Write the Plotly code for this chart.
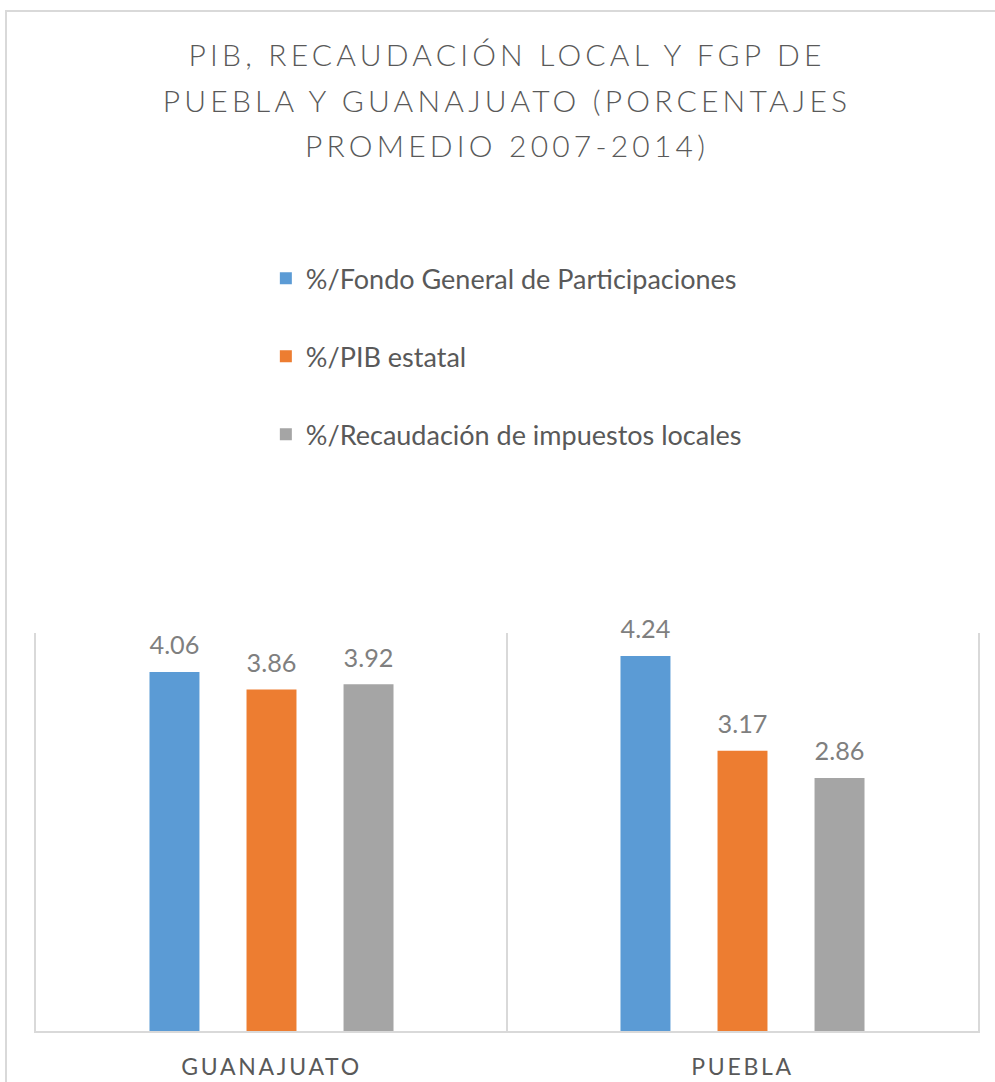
import plotly.graph_objects as go

categories = ["GUANAJUATO", "PUEBLA"]
series_names = [
    "%/Fondo General de Participaciones",
    "%/PIB estatal",
    "%/Recaudación de impuestos locales",
]
fgp_values = [4.06, 4.24]
pib_values = [3.86, 3.17]
recaudacion_values = [3.92, 2.86]
series_values = [fgp_values, pib_values, recaudacion_values]
colors = ["#5B9BD5", "#ED7D31", "#A5A5A5"]

title_lines = [
    "PIB, RECAUDACIÓN LOCAL Y FGP DE",
    "PUEBLA Y GUANAJUATO (PORCENTAJES",
    "PROMEDIO 2007-2014)",
]

FONT = "Lato, Carlito, 'Open Sans', sans-serif"

fig = go.Figure()
for i, (name, vals, col) in enumerate(zip(series_names, series_values, colors)):
    fig.add_trace(go.Bar(
        x=categories,
        y=vals,
        name=name,
        legendgroup=f"g{i}",
        marker=dict(color=col, line=dict(width=0)),
        texttemplate='<span style="font-size:27px">%{y:.2f}</span><br><span style="font-size:1px">&nbsp;</span>',
        textposition="outside",
        textfont=dict(family=FONT, size=12, color="#7F7F7F"),
        cliponaxis=False,
        hoverinfo="skip",
    ))

title_text = "<br>".join(
    f'<span style="font-size:30px;letter-spacing:4.2px">{t}</span>' for t in title_lines
)

fig.update_layout(
    template="none",
    width=995,
    height=1082,
    margin=dict(l=36, r=17, t=633, b=51, autoexpand=False),
    paper_bgcolor="white",
    plot_bgcolor="white",
    barmode="group",
    bargap=0.382,
    bargroupgap=0.485,
    title=dict(
        text=title_text,
        x=0.5,
        xref="paper",
        xanchor="center",
        y=1 - 66 / 1082,
        yref="container",
        yanchor="top",
        font=dict(family=FONT, size=35, color="#595959", weight=300),
    ),
    legend=dict(
        orientation="v",
        x=0.244,
        xanchor="left",
        y=1.952,
        yanchor="top",
        font=dict(family=FONT, size=27, color="#595959"),
        tracegroupgap=40,
        bgcolor="rgba(0,0,0,0)",
        borderwidth=0,
    ),
    showlegend=True,
    xaxis=dict(
        type="category",
        range=[-0.5, 1.5],
        tickson="boundaries",
        showgrid=True,
        gridcolor="#D9D9D9",
        gridwidth=2,
        showline=True,
        linecolor="#D9D9D9",
        linewidth=2,
        ticks="",
        tickmode="array",
        tickvals=categories,
        ticktext=[f'<span style="letter-spacing:2.7px">{c}</span>' for c in categories],
        tickfont=dict(family=FONT, size=23, color="#595959"),
        ticklabelstandoff=14,
        zeroline=False,
        automargin=False,
    ),
    yaxis=dict(
        range=[0, 4.5],
        showticklabels=False,
        ticks="",
        showgrid=False,
        zeroline=False,
        showline=True,
        mirror=True,
        linecolor="#D9D9D9",
        linewidth=2,
        automargin=False,
    ),
    shapes=[dict(
        type="rect",
        xref="paper", yref="paper",
        x0=(6 - 36) / 942, x1=(1000 - 36) / 942,
        y0=(1031 - 1090) / 398, y1=(1031 - 11) / 398,
        line=dict(color="#D9D9D9", width=2),
        fillcolor="rgba(0,0,0,0)",
        layer="below",
    )],
)

fig.write_html(
    "out.html",
    config={"displayModeBar": False},
    post_script="document.body.style.margin='0';",
)
